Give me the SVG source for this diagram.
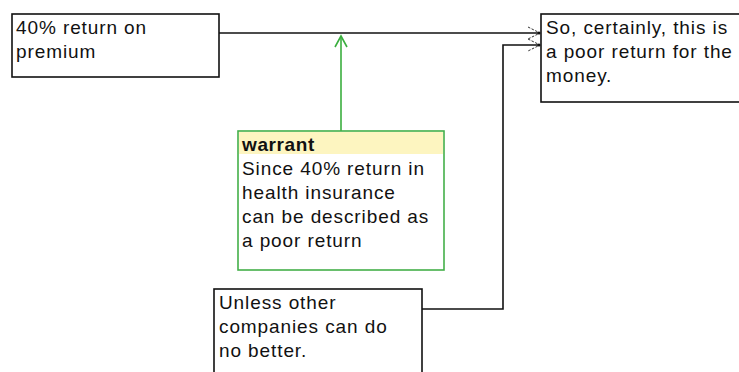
<svg xmlns="http://www.w3.org/2000/svg" width="739" height="372" viewBox="0 0 739 372">
<style>
.box{fill:#fff;stroke:#111;stroke-width:1.6}
.wbox{fill:#fff;stroke:#44b049;stroke-width:1.6}
.t{font-family:"Liberation Sans",Arial,sans-serif;font-size:19px;letter-spacing:0.9px;fill:#111}
.b{font-weight:bold;letter-spacing:0.6px}
.c{fill:none;stroke:#111;stroke-width:1.6}
.g{fill:none;stroke:#3aae3e;stroke-width:1.6}
.ah{fill:none;stroke:#333;stroke-width:1;stroke-dasharray:2.5 1.5}
</style>
<rect width="739" height="372" fill="#fff"/>
<g id="connectors">
<path class="c" d="M219,33 H540"/>
<path class="ah" d="M528,27 L540,33 L528,39"/>
<circle cx="539" cy="33" r="1.6" fill="#111"/>
<path class="c" d="M422,309 H503 V45 H540"/>
<path class="ah" d="M528,39 L540,45 L528,51"/>
<circle cx="539" cy="45" r="1.6" fill="#111"/>
<path class="g" d="M341,131 V36"/>
<path class="g" d="M335,47 L341,36 L347,47"/>
</g>
<g id="node-premium">
<rect class="box" x="12" y="14" width="207" height="63"/>
<text class="t" x="16" y="34">40% return on</text>
<text class="t" x="16" y="58">premium</text>
</g>
<g id="node-claim">
<rect class="box" x="541" y="14" width="210" height="88"/>
<text class="t" x="546" y="34">So, certainly, this is</text>
<text class="t" x="546" y="58">a poor return for the</text>
<text class="t" x="546" y="82">money.</text>
</g>
<g id="node-warrant">
<rect class="wbox" x="238" y="131" width="206" height="139"/>
<rect x="239" y="132" width="204" height="22" fill="#fdf5c0"/>
<text class="t b" x="242" y="151">warrant</text>
<text class="t" x="242" y="175">Since 40% return in</text>
<text class="t" x="242" y="199">health insurance</text>
<text class="t" x="242" y="223">can be described as</text>
<text class="t" x="242" y="247">a poor return</text>
</g>
<g id="node-rebuttal">
<rect class="box" x="214" y="289" width="208" height="90"/>
<text class="t" x="219" y="309">Unless other</text>
<text class="t" x="219" y="333">companies can do</text>
<text class="t" x="219" y="357">no better.</text>
</g>
</svg>
